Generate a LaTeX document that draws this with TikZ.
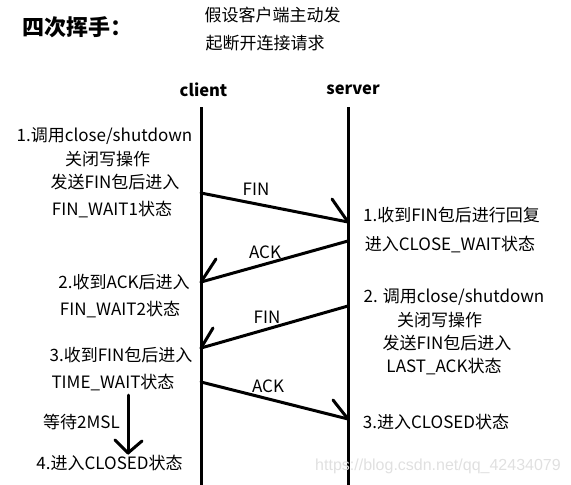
\documentclass[tikz,border=0pt]{standalone}
\usepackage{fontspec}
\setmainfont{Noto Sans CJK SC}
\newfontfamily\wmfont{Liberation Sans}
\begin{document}
\begin{tikzpicture}[x=1pt,y=-1pt,
  txt/.style={inner sep=0pt,font=\fontsize{17}{19}\selectfont},
  hdr/.style={inner sep=0pt,font=\fontsize{16.5}{18}\selectfont\bfseries},
  lifeline/.style={line width=3pt},
  msg/.style={line width=3pt,line cap=round},
  wing/.style={line width=3pt,line cap=round}]
\useasboundingbox (0,0) rectangle (571,485);
% title
\node[inner sep=0pt,font=\fontsize{22}{24}\selectfont\bfseries] (title) at (78,27) {四次挥手：};
\node[txt] (n1) at (272.5,15) {假设客户端主动发};
\node[txt] (n2) at (265,43) {起断开连接请求};
% headers
\node[hdr] (client) at (203.5,90) {client};
\node[hdr] (server) at (353,90) {server};
% lifelines
\coordinate (ct) at (201,107); \coordinate (cb) at (201,485);
\coordinate (st) at (348,107); \coordinate (sb) at (348,485);
\draw[lifeline] (ct) -- (cb);
\draw[lifeline] (st) -- (sb);
% message points
\coordinate (c1) at (201,193); \coordinate (s1) at (348,222);
\coordinate (s2) at (348,241); \coordinate (c2) at (201,282);
\coordinate (s3) at (348,306); \coordinate (c3) at (201,348);
\coordinate (c4) at (201,382); \coordinate (s4) at (348,419);
\draw[msg] (c1) -- (s1); \draw[wing] (s1) -- ++(-16,-23);
\draw[msg] (s2) -- (c2); \draw[wing] (c2) -- ++(15,-23);
\draw[msg] (s3) -- (c3); \draw[wing] (c3) -- ++(12,-20);
\draw[msg] (c4) -- (s4); \draw[wing] (s4) -- ++(-15,-19);
\node[txt] (l1) at (256,189) {FIN};
\node[txt] (l2) at (265,252) {ACK};
\node[txt] (l3) at (267,317) {FIN};
\node[txt] (l4) at (268,386) {ACK};
% left texts
\node[txt] (a1) at (104.5,136) {1.调用close/shutdown};
\node[txt] (a2) at (107.5,159) {关闭写操作};
\node[txt] (a3) at (115,182) {发送FIN包后进入};
\node[txt] (a4) at (112,210) {FIN\_WAIT1状态};
\node[txt] (b1) at (124,282) {2.收到ACK后进入};
\node[txt] (b2) at (120,310) {FIN\_WAIT2状态};
\node[txt] (d1) at (121,355) {3.收到FIN包后进入};
\node[txt] (d2) at (113,383) {TIME\_WAIT状态};
\node[txt] (w) at (81.5,422) {等待2MSL};
\node[txt] (e1) at (109.5,463) {4.进入CLOSED状态};
\coordinate (wt) at (128,395); \coordinate (wb) at (128,453);
\draw[msg] (wt) -- (wb);
\draw[wing] (wb) -- ++(-13,-13);
\draw[wing] (wb) -- ++(14,-12);
% right texts
\node[txt] (r1) at (451.5,215) {1.收到FIN包后进行回复};
\node[txt] (r2) at (450,245) {进入CLOSE\_WAIT状态};
\node[txt] (r3) at (454,297) {2. 调用close/shutdown};
\node[txt] (r4) at (439.5,320) {关闭写操作};
\node[txt] (r5) at (447,343) {发送FIN包后进入};
\node[txt] (r6) at (444,367) {LAST\_ACK状态};
\node[txt] (r7) at (436,422) {3.进入CLOSED状态};
% watermark
\node[inner sep=0pt,text=black!12,font=\wmfont\fontsize{16}{18}\selectfont] (wm) at (438,466) {https://blog.csdn.net/qq\_42434079};
\end{tikzpicture}
\end{document}
